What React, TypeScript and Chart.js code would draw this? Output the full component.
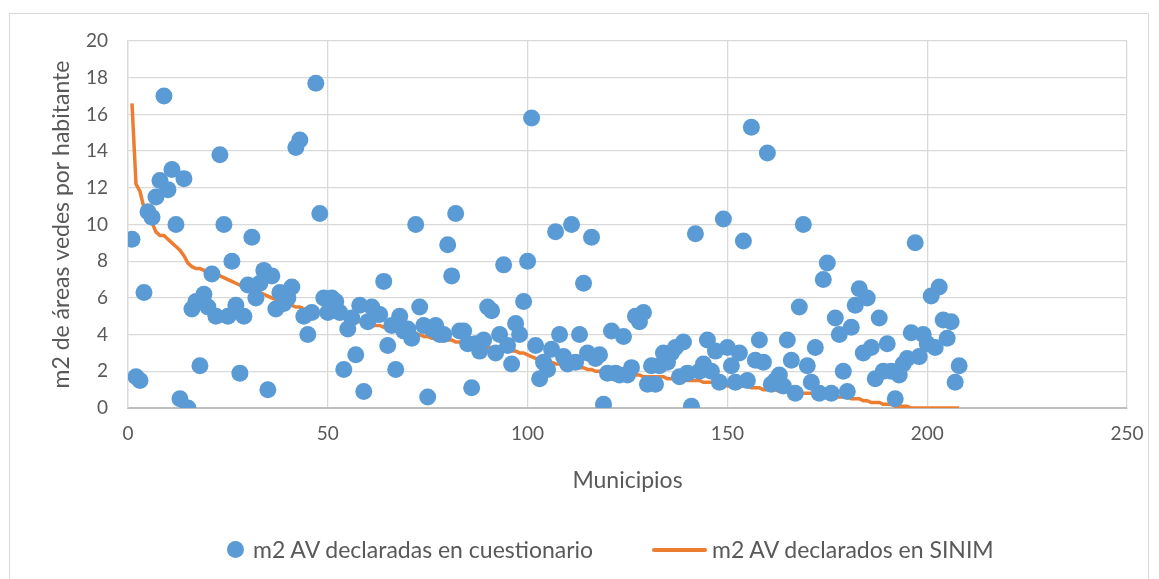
import React, { useEffect, useRef } from "react";
import { Chart, registerables } from "chart.js";

Chart.register(...registerables);

// Municipios 1..208 — m2 AV declaradas en cuestionario
const cuestionario: number[] = [
  9.2, 1.7, 1.5, 6.3, 10.7, 10.4, 11.5, 12.4, 17.0, 11.9,
  13.0, 10.0, 0.5, 12.5, 0.0, 5.4, 5.8, 2.3, 6.2, 5.5,
  7.3, 5.0, 13.8, 10.0, 5.0, 8.0, 5.6, 1.9, 5.0, 6.7,
  9.3, 6.0, 6.8, 7.5, 1.0, 7.2, 5.4, 6.3, 5.7, 6.0,
  6.6, 14.2, 14.6, 5.0, 4.0, 5.2, 17.7, 10.6, 6.0, 5.2,
  6.0, 5.8, 5.2, 2.1, 4.3, 4.9, 2.9, 5.6, 0.9, 4.7,
  5.5, 5.1, 5.1, 6.9, 3.4, 4.5, 2.1, 5.0, 4.2, 4.3,
  3.8, 10.0, 5.5, 4.5, 0.6, 4.3, 4.5, 4.0, 4.0, 8.9,
  7.2, 10.6, 4.2, 4.2, 3.5, 1.1, 3.5, 3.1, 3.7, 5.5,
  5.3, 3.0, 4.0, 7.8, 3.4, 2.4, 4.6, 4.0, 5.8, 8.0,
  15.8, 3.4, 1.6, 2.5, 2.1, 3.2, 9.6, 4.0, 2.8, 2.4,
  10.0, 2.5, 4.0, 6.8, 3.0, 9.3, 2.7, 2.9, 0.2, 1.9,
  4.2, 1.9, 1.8, 3.9, 1.8, 2.2, 5.0, 4.7, 5.2, 1.3,
  2.3, 1.3, 2.3, 3.0, 2.5, 3.0, 3.3, 1.7, 3.6, 1.9,
  0.1, 9.5, 2.0, 2.4, 3.7, 2.0, 3.1, 1.4, 10.3, 3.3,
  2.3, 1.4, 3.0, 9.1, 1.5, 15.3, 2.6, 3.7, 2.5, 13.9,
  1.3, 1.5, 1.8, 1.2, 3.7, 2.6, 0.8, 5.5, 10.0, 2.3,
  1.4, 3.3, 0.8, 7.0, 7.9, 0.8, 4.9, 4.0, 2.0, 0.9,
  4.4, 5.6, 6.5, 3.0, 6.0, 3.3, 1.6, 4.9, 2.0, 3.5,
  2.0, 0.5, 1.8, 2.4, 2.7, 4.1, 9.0, 2.8, 4.0, 3.5,
  6.1, 3.3, 6.6, 4.8, 3.8, 4.7, 1.4, 2.3,
];

// m2 AV declarados en SINIM (sorted descending)
const sinim: number[] = [
  16.6, 12.2, 11.8, 10.9, 10.5, 10.1, 9.6, 9.4, 9.4, 9.2,
  9.0, 8.8, 8.6, 8.3, 7.9, 7.7, 7.6, 7.6, 7.5, 7.4,
  7.3, 7.3, 7.2, 7.1, 7.0, 6.9, 6.8, 6.7, 6.6, 6.5,
  6.4, 6.3, 6.3, 6.2, 6.1, 6.0, 5.9, 5.8, 5.7, 5.7,
  5.6, 5.5, 5.5, 5.4, 5.3, 5.3, 5.2, 5.2, 5.1, 5.1,
  5.0, 5.0, 4.9, 4.9, 4.8, 4.8, 4.7, 4.7, 4.6, 4.6,
  4.5, 4.5, 4.5, 4.4, 4.4, 4.3, 4.3, 4.2, 4.2, 4.1,
  4.1, 4.0, 4.0, 3.9, 3.9, 3.8, 3.8, 3.8, 3.7, 3.7,
  3.7, 3.6, 3.6, 3.5, 3.5, 3.4, 3.4, 3.4, 3.3, 3.3,
  3.3, 3.2, 3.2, 3.2, 3.1, 3.1, 3.1, 3.0, 3.0, 2.9,
  2.8, 2.7, 2.6, 2.6, 2.5, 2.5, 2.4, 2.4, 2.3, 2.3,
  2.3, 2.2, 2.2, 2.2, 2.1, 2.1, 2.0, 2.0, 2.0, 1.9,
  1.9, 1.9, 1.9, 1.8, 1.8, 1.8, 1.8, 1.8, 1.7, 1.7,
  1.7, 1.7, 1.7, 1.7, 1.6, 1.6, 1.6, 1.6, 1.6, 1.5,
  1.5, 1.5, 1.5, 1.4, 1.4, 1.4, 1.4, 1.3, 1.3, 1.2,
  1.2, 1.2, 1.2, 1.2, 1.2, 1.1, 1.1, 1.1, 1.0, 1.0,
  1.0, 1.0, 0.9, 0.9, 0.9, 0.9, 0.9, 0.8, 0.8, 0.8,
  0.8, 0.8, 0.7, 0.7, 0.7, 0.7, 0.6, 0.6, 0.6, 0.6,
  0.5, 0.5, 0.5, 0.4, 0.4, 0.3, 0.3, 0.3, 0.2, 0.2,
  0.2, 0.1, 0.1, 0.1, 0.1, 0.0, 0.0, 0.0, 0.0, 0.0,
  0.0, 0.0, 0.0, 0.0, 0.0, 0.0, 0.0, 0.0,
];

const xTitle = "Municipios";
const yTitle = "m2 de áreas vedes por habitante";
const seriesNames = ["m2 AV declaradas en cuestionario", "m2 AV declarados en SINIM"];

const FONT = "Lato, 'Open Sans', sans-serif";
const TEXT = "#595959";
const BLUE = "#5b9bd5";
const ORANGE = "#ed7d31";

export default function App() {
  const ref = useRef<HTMLCanvasElement | null>(null);

  useEffect(() => {
    document.body.style.margin = "0";
    if (!ref.current) return;
    const chart = new Chart(ref.current, {
      type: "scatter",
      data: {
        datasets: [
          {
            label: seriesNames[1],
            type: "line",
            data: sinim.map((v, i) => ({ x: i + 1, y: v })),
            borderColor: ORANGE,
            backgroundColor: ORANGE,
            borderWidth: 3.5,
            pointRadius: 0,
            tension: 0,
            order: 2,
          } as any,
          {
            label: seriesNames[0],
            data: cuestionario.map((v, i) => ({ x: i + 1, y: v })),
            backgroundColor: BLUE,
            borderColor: BLUE,
            pointRadius: 8.5,
            pointHoverRadius: 8.5,
            borderWidth: 0,
            order: 1,
          },
        ],
      },
      options: {
        animation: false,
        responsive: false,
        maintainAspectRatio: false,
        layout: { padding: { left: 48, right: 32, top: 41, bottom: 81 } },
        plugins: { legend: { display: false }, tooltip: { enabled: false } },
        scales: {
          x: {
            type: "linear",
            min: 0,
            max: 250,
            afterFit: (s: any) => { s.height = 90; },
            ticks: { stepSize: 50, color: TEXT, font: { family: FONT, size: 19 }, padding: 14 },
            grid: { color: "#d9d9d9", lineWidth: 1.3, drawTicks: false },
            border: { color: "#bfbfbf", width: 2 },
            title: { display: true, text: xTitle, color: TEXT, font: { family: FONT, size: 23 }, padding: { top: 12 } },
          },
          y: {
            min: 0,
            max: 20,
            afterFit: (s: any) => { s.width = 80; },
            ticks: { stepSize: 2, color: TEXT, font: { family: FONT, size: 19 }, padding: 20 },
            grid: { color: "#d9d9d9", lineWidth: 1.3, drawTicks: false },
            border: { color: "#d9d9d9", width: 1.3 },
            title: { display: true, text: yTitle, color: TEXT, font: { family: FONT, size: 23 }, padding: { bottom: 0, top: 0 } },
          },
        },
      },
    });
    return () => chart.destroy();
  }, []);

  return (
    <div style={{ position: "fixed", left: 0, top: 0, width: 1159, height: 579, background: "#fff", overflow: "hidden" }}>
      <div style={{ position: "absolute", left: 9, top: 13, width: 1140, height: 600, border: "1px solid #d9d9d9", boxSizing: "border-box" }} />
      <canvas ref={ref} width={1159} height={579} style={{ position: "absolute", left: 0, top: 0, width: 1159, height: 579 }} />
      <div style={{ position: "absolute", left: 0, top: 534, width: 1159, height: 30, fontFamily: FONT, fontSize: 23, color: TEXT }}>
        <div style={{ position: "absolute", left: 227, top: 7, width: 17, height: 17, borderRadius: 9, background: BLUE }} />
        <div style={{ position: "absolute", left: 253, top: 0, whiteSpace: "nowrap", lineHeight: "30px" }}>{seriesNames[0]}</div>
        <div style={{ position: "absolute", left: 652, top: 14, width: 55, height: 4, borderRadius: 2, background: ORANGE }} />
        <div style={{ position: "absolute", left: 712, top: 0, whiteSpace: "nowrap", lineHeight: "30px" }}>{seriesNames[1]}</div>
      </div>
    </div>
  );
}
